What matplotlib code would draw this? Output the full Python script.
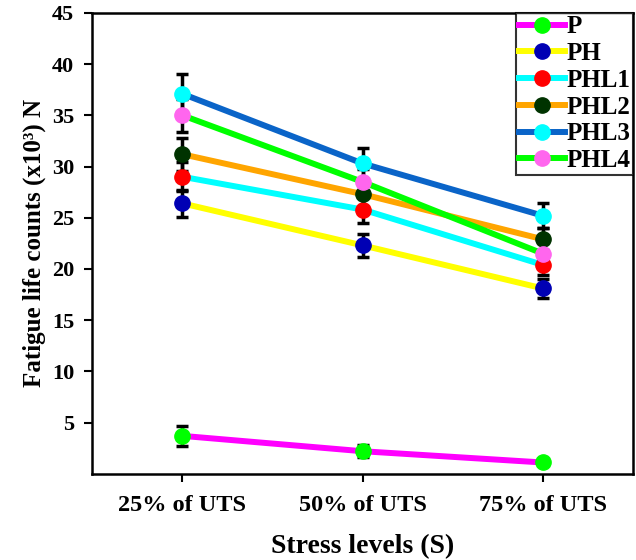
import matplotlib
matplotlib.use("Agg")
import matplotlib.pyplot as plt

plt.rcParams['font.family'] = ['Liberation Serif', 'DejaVu Serif']
plt.rcParams['font.weight'] = 'bold'

stress = ['25% of UTS', '50% of UTS', '75% of UTS']
series = ['P', 'PH', 'PHL1', 'PHL2', 'PHL3', 'PHL4']

p_vals = [3.7, 2.2, 1.1]
ph_vals = [26.4, 22.3, 18.1]
phl1_vals = [29.0, 25.8, 20.4]
phl2_vals = [31.2, 27.3, 22.9]
phl3_vals = [37.1, 30.3, 25.2]
phl4_vals = [35.0, 28.5, 21.5]

p_err = [1.0, 0.6, 0.2]
ph_err = [1.3, 1.1, 0.9]
phl1_err = [1.4, 1.3, 1.0]
phl2_err = [1.6, 1.4, 1.1]
phl3_err = [1.9, 1.5, 1.2]
phl4_err = [1.6, 1.3, 1.0]

vals = [p_vals, ph_vals, phl1_vals, phl2_vals, phl3_vals, phl4_vals]
errs = [p_err, ph_err, phl1_err, phl2_err, phl3_err, phl4_err]
line_cols = ['#ff00ff', '#ffff00', '#00ffff', '#ffa500', '#0a64c8', '#00ff00']
mark_cols = ['#00ff00', '#0000b4', '#ff0000', '#003300', '#00ffff', '#ff66ee']

fig = plt.figure(figsize=(6.36, 5.6), dpi=100)
ax = fig.add_axes([0.145, 0.154, 0.85, 0.823])

x = list(range(len(stress)))
for name, v, e, lc, mc in zip(series, vals, errs, line_cols, mark_cols):
    ax.errorbar(x, v, yerr=e, fmt='none', ecolor='black', elinewidth=2.5,
                capsize=4, capthick=2.5, zorder=2)
    ax.plot(x, v, '-', color=lc, lw=4.3, marker='o', markersize=11,
            markerfacecolor=mc, markeredgecolor=mc, label=name, zorder=3)

ax.set_xlim(-0.5, 2.5)
ax.set_ylim(0, 45)
ax.set_yticks([5, 10, 15, 20, 25, 30, 35, 40, 45])
ax.set_xticks(x)
ax.set_xticklabels(stress)
ax.tick_params(axis='both', direction='out', length=6, width=1.5)
ax.tick_params(axis='y', labelsize=16, pad=7)
ax.tick_params(axis='x', labelsize=17.5, pad=9)
for s in ax.spines.values():
    s.set_linewidth(1.8)

ax.set_xlabel('Stress levels (S)', fontsize=20, fontweight='bold', labelpad=13)
ax.set_ylabel('Fatigue life counts (x10³) N', fontsize=18, fontweight='bold',
              labelpad=4)

leg = ax.legend(loc='upper right', fontsize=18, frameon=True, fancybox=False,
                borderpad=0.1, handlelength=1.85, handletextpad=0.05,
                labelspacing=0.15, borderaxespad=0.0)
leg.get_frame().set_edgecolor('black')
leg.get_frame().set_linewidth(1.5)

fig.savefig('out.png', dpi=100)
